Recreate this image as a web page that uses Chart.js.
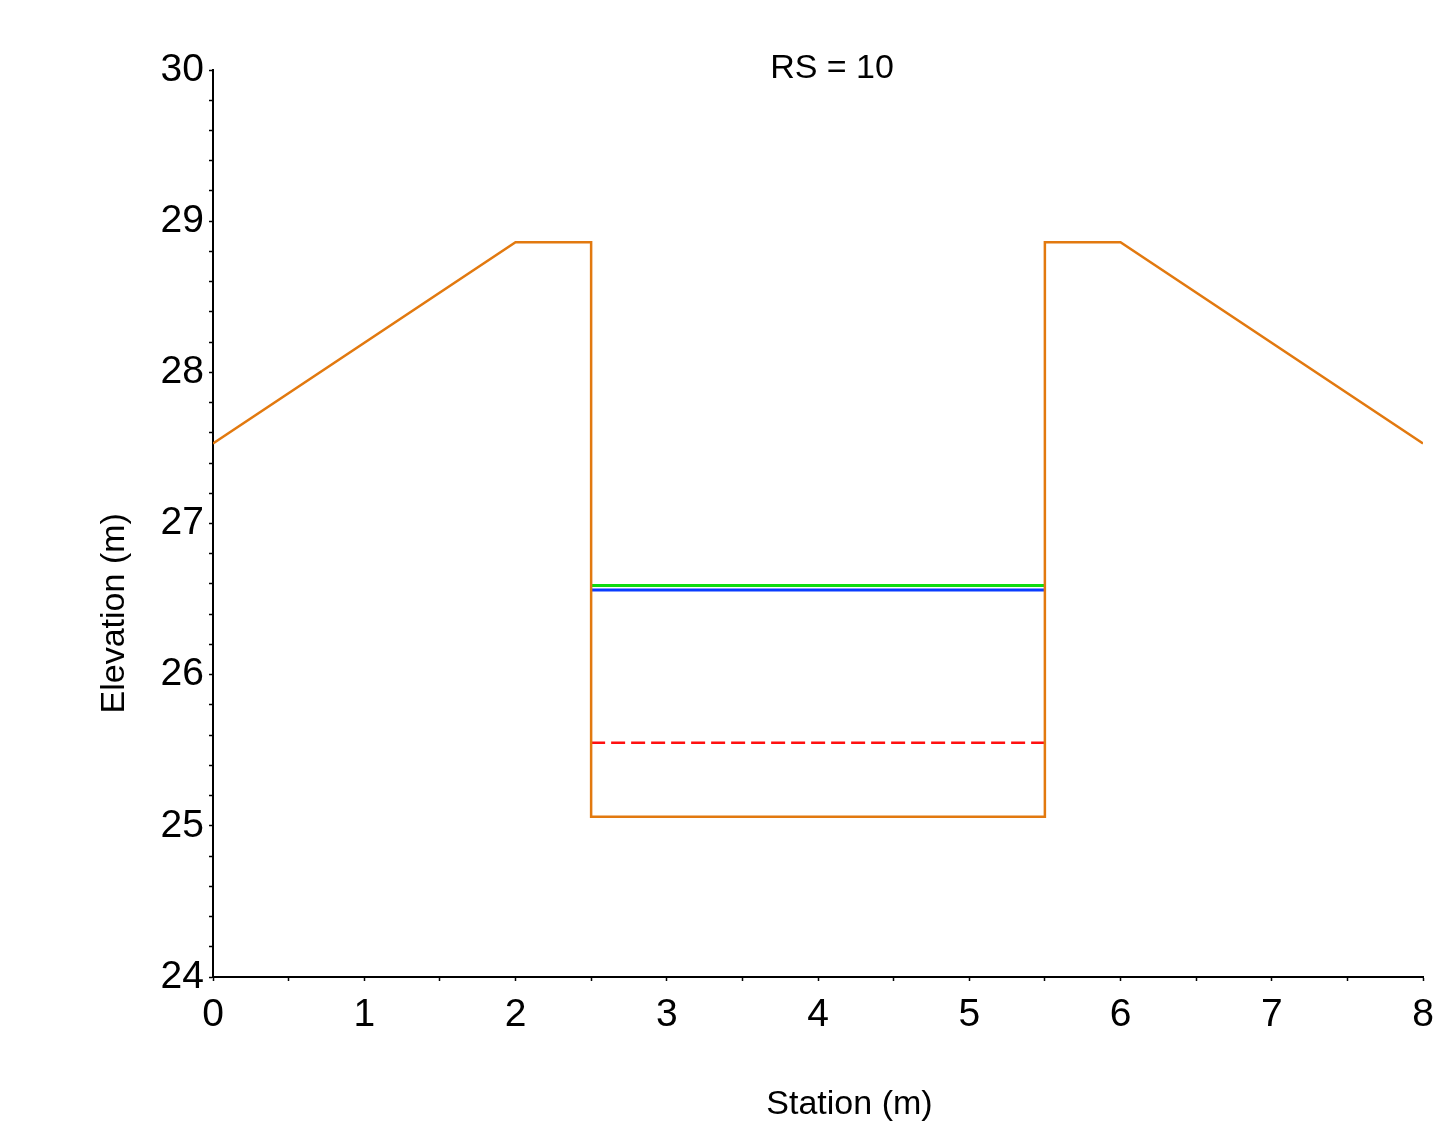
<!DOCTYPE html>
<html>
<head>
<meta charset="utf-8">
<title>RS = 10</title>
<script src="https://cdn.jsdelivr.net/npm/chart.js@4"></script>
<style>
  html, body { margin: 0; padding: 0; background: #fff; }
  #wrap { width: 1439px; height: 1145px; position: relative; }
</style>
</head>
<body>
<div id="wrap"><canvas id="sectionChart"></canvas></div>
<script>
// Cross section data (station m, elevation m)
const groundStation = [0, 2, 2.5, 2.5, 5.5, 5.5, 6, 8];
const groundElev = [27.53, 28.86, 28.86, 25.06, 25.06, 28.86, 28.86, 27.53];
const channelStation = [2.5, 5.5];
const egElev = [26.59, 26.59];
const wsElev = [26.56, 26.56];
const critElev = [25.55, 25.55];

const xTickLabels = ['0', '1', '2', '3', '4', '5', '6', '7', '8'];
const yTickLabels = ['24', '25', '26', '27', '28', '29', '30'];

const FONT = '"Liberation Sans", Arial, sans-serif';

function toPoints(xs, ys) {
    return xs.map((x, i) => ({ x: x, y: ys[i] }));
}

function isWhole(v) {
    return Math.abs(v - Math.round(v)) < 1e-6;
}

// titles placed like the original figure
const titlesPlugin = {
    id: 'titles',
    afterDraw(chart) {
        const ctx = chart.ctx;
        const a = chart.chartArea;
        const w = a.right - a.left;
        const h = a.bottom - a.top;
        ctx.save();
        ctx.fillStyle = '#000';
        ctx.font = '34px ' + FONT;
        ctx.textAlign = 'center';
        ctx.textBaseline = 'middle';
        ctx.fillText('RS = 10', a.left + w * 0.5116, a.top - 1);
        ctx.fillText('Station (m)', a.left + w * 0.526, a.bottom + 128);
        ctx.translate(a.left - 98, a.top + h * 0.599);
        ctx.rotate(-Math.PI / 2);
        ctx.fillText('Elevation (m)', 0, 0);
        ctx.restore();
    }
};

const ctx = document.getElementById('sectionChart').getContext('2d');

new Chart(ctx, {
    type: 'scatter',
    data: {
        datasets: [
            {
                label: 'Ground',
                data: toPoints(groundStation, groundElev),
                showLine: true,
                borderColor: '#e2790f',
                borderWidth: 2.5,
                pointRadius: 0
            },
            {
                label: 'EG',
                data: toPoints(channelStation, egElev),
                showLine: true,
                borderColor: '#10dc10',
                borderWidth: 3,
                pointRadius: 0
            },
            {
                label: 'WS',
                data: toPoints(channelStation, wsElev),
                showLine: true,
                borderColor: '#0a3cff',
                borderWidth: 3,
                pointRadius: 0
            },
            {
                label: 'Crit',
                data: toPoints(channelStation, critElev),
                showLine: true,
                borderColor: '#ff1010',
                borderWidth: 2.5,
                borderDash: [14, 6],
                pointRadius: 0
            }
        ]
    },
    options: {
        responsive: true,
        maintainAspectRatio: false,
        animation: false,
        layout: {
            padding: { top: 70, right: 16, left: 0, bottom: 0 }
        },
        plugins: {
            legend: { display: false },
            tooltip: { enabled: false }
        },
        scales: {
            x: {
                type: 'linear',
                min: 0,
                max: 8,
                border: { color: '#000', width: 2 },
                grid: {
                    drawOnChartArea: false,
                    drawTicks: true,
                    tickLength: 4,
                    tickColor: '#000',
                    tickWidth: 1.5
                },
                ticks: {
                    stepSize: 0.5,
                    autoSkip: false,
                    maxRotation: 0,
                    padding: 11,
                    color: '#000',
                    font: { family: FONT, size: 39 },
                    callback: v => isWhole(v) ? xTickLabels[Math.round(v)] : ''
                },
                afterFit: scale => {
                    scale.height = 168;
                    scale.paddingLeft = 0;
                    scale.paddingRight = 0;
                }
            },
            y: {
                type: 'linear',
                min: 24,
                max: 30,
                border: { color: '#000', width: 2 },
                grid: {
                    drawOnChartArea: false,
                    drawTicks: true,
                    tickLength: 4,
                    tickColor: '#000',
                    tickWidth: 1.5
                },
                ticks: {
                    stepSize: 0.2,
                    autoSkip: false,
                    padding: 5,
                    color: '#000',
                    font: { family: FONT, size: 39 },
                    callback: v => isWhole(v) ? yTickLabels[Math.round(v) - 24] : ''
                },
                afterFit: scale => {
                    scale.width = 213;
                    scale.paddingTop = 0;
                    scale.paddingBottom = 0;
                }
            }
        }
    },
    plugins: [titlesPlugin]
});
</script>
</body>
</html>
